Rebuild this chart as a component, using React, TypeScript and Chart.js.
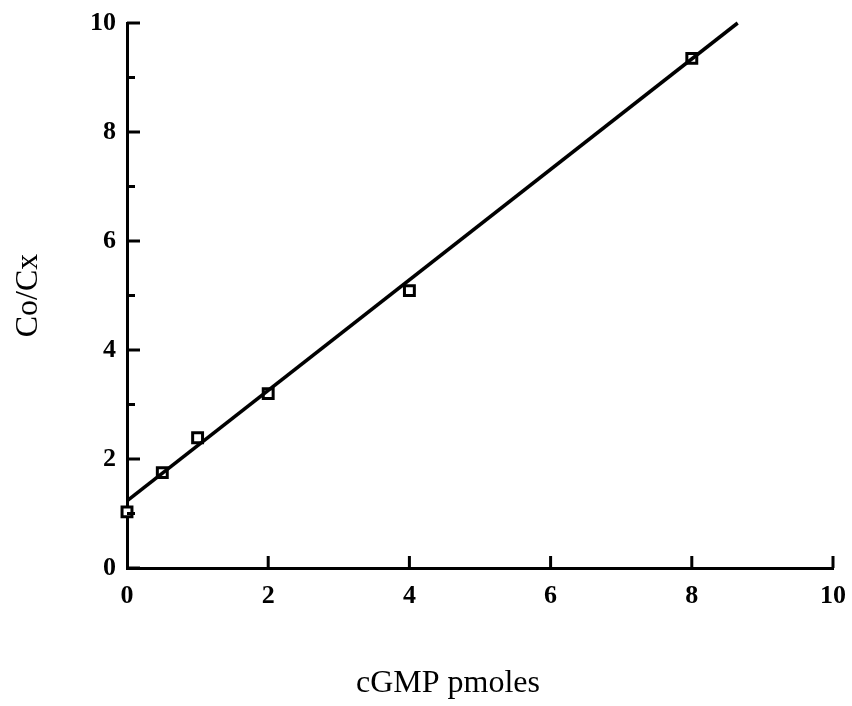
import React, { useEffect, useRef } from "react";
import { Chart, registerables } from "chart.js";

Chart.register(...registerables);

// Measured data points (cGMP pmoles vs Co/Cx)
const cgmpPmoles = [0, 0.5, 1, 2, 4, 8];
const coCxValues = [1.03, 1.75, 2.39, 3.2, 5.09, 9.35];

// Fitted regression line endpoints
const fitX = [0, 8.65];
const fitY = [1.23, 10];

const majorTicks = [0, 2, 4, 6, 8, 10];
const yMinorTicks = [1, 3, 5, 7, 9];

const xTitle = "cGMP pmoles";
const yTitle = "Co/Cx";

const FONT = "'Liberation Serif', 'Times New Roman', serif";

const inwardTicks = {
  id: "inwardTicks",
  afterDraw(chart: any) {
    const { ctx, scales } = chart;
    const xs = scales.x;
    const ys = scales.y;
    const left = chart.chartArea.left;
    const bottom = chart.chartArea.bottom;
    ctx.save();
    ctx.strokeStyle = "#000";
    ctx.lineWidth = 3;
    ctx.lineCap = "butt";
    majorTicks.forEach((v) => {
      const y = ys.getPixelForValue(v);
      ctx.beginPath();
      ctx.moveTo(left, y);
      ctx.lineTo(left + 13, y);
      ctx.stroke();
    });
    yMinorTicks.forEach((v) => {
      const y = ys.getPixelForValue(v);
      ctx.beginPath();
      ctx.moveTo(left, y);
      ctx.lineTo(left + 8, y);
      ctx.stroke();
    });
    majorTicks.forEach((v) => {
      if (v === 0) return;
      const x = xs.getPixelForValue(v);
      ctx.beginPath();
      ctx.moveTo(x, bottom);
      ctx.lineTo(x, bottom - 12);
      ctx.stroke();
    });
    ctx.fillStyle = "#000";
    ctx.font = `32px ${FONT}`;
    ctx.textAlign = "center";
    ctx.textBaseline = "middle";
    ctx.fillText(xTitle, 448, 684);
    ctx.restore();
  },
};

export default function App() {
  const canvasRef = useRef<HTMLCanvasElement | null>(null);

  useEffect(() => {
    const canvas = canvasRef.current;
    if (!canvas) return;
    const chart = new Chart(canvas, {
      type: "scatter",
      data: {
        datasets: [
          {
            type: "line",
            data: fitX.map((x, i) => ({ x, y: fitY[i] })),
            borderColor: "#000",
            borderWidth: 3.5,
            pointRadius: 0,
            fill: false,
            tension: 0,
            clip: false,
          } as any,
          {
            data: cgmpPmoles.map((x, i) => ({ x, y: coCxValues[i] })),
            pointStyle: "rect",
            pointRadius: 7,
            borderColor: "#000",
            borderWidth: 3,
            backgroundColor: "#fff",
            clip: false,
          } as any,
          {
            data: cgmpPmoles.map((x, i) => ({ x, y: coCxValues[i] })),
            pointStyle: "circle",
            pointRadius: 1.3,
            borderWidth: 0,
            backgroundColor: "#000",
            clip: false,
          } as any,
        ],
      },
      options: {
        responsive: false,
        animation: false,
        layout: { padding: { top: 23, right: 19, left: 0, bottom: 0 } },
        plugins: {
          legend: { display: false },
          tooltip: { enabled: false },
        },
        scales: {
          x: {
            type: "linear",
            min: 0,
            max: 10,
            afterFit: (s: any) => {
              s.height = 138;
              s.paddingLeft = 0;
              s.paddingRight = 0;
            },
            afterBuildTicks: (s: any) => {
              s.ticks = majorTicks.map((v) => ({ value: v }));
            },
            grid: { display: false, drawTicks: false },
            border: { display: true, color: "#000", width: 3 },
            ticks: {
              color: "#000",
              padding: 13,
              font: { family: FONT, size: 26, weight: "bold" },
            },
          },
          y: {
            type: "linear",
            min: 0,
            max: 10,
            afterFit: (s: any) => {
              s.width = 127;
              s.paddingTop = 0;
              s.paddingBottom = 0;
            },
            afterBuildTicks: (s: any) => {
              s.ticks = majorTicks.map((v) => ({ value: v }));
            },
            grid: { display: false, drawTicks: false },
            border: { display: true, color: "#000", width: 3 },
            ticks: {
              color: "#000",
              padding: 11,
              font: { family: FONT, size: 26, weight: "bold" },
            },
            title: {
              display: true,
              text: yTitle,
              color: "#000",
              padding: { top: 9, bottom: 0 },
              font: { family: FONT, size: 32 },
            },
          },
        },
      },
      plugins: [inwardTicks],
    });
    return () => chart.destroy();
  }, []);

  return (
    <div style={{ position: "absolute", left: 0, top: 0, width: 852, height: 706, background: "#fff" }}>
      <canvas ref={canvasRef} width={852} height={706} />
    </div>
  );
}
